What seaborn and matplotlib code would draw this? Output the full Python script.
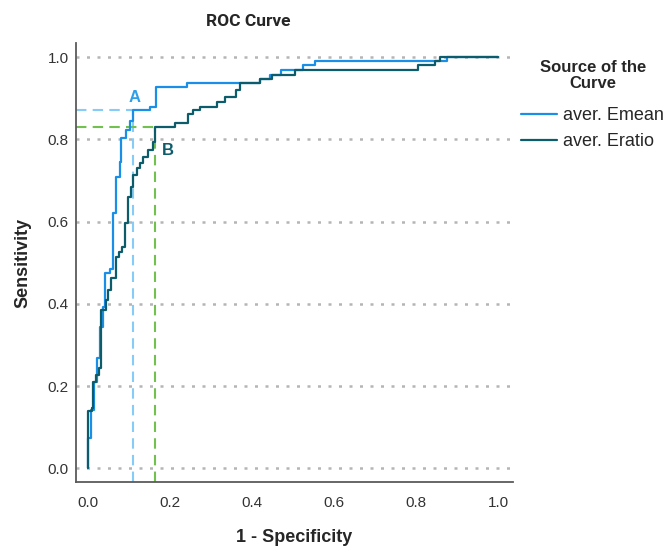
import numpy as np
import pandas as pd
import seaborn as sns
from matplotlib import pyplot as plt
from matplotlib.lines import Line2D

# ROC corner points (vertical step first, then horizontal)
emean_fpr = [0.0, 0.006, 0.013, 0.021, 0.028, 0.035, 0.042, 0.054, 0.060, 0.067,
             0.077, 0.081, 0.091, 0.101, 0.109, 0.150, 0.165, 0.240, 0.418, 0.443,
             0.471, 0.523, 0.553, 0.874, 1.0]
emean_tpr = [0.0, 0.074, 0.142, 0.210, 0.268, 0.343, 0.392, 0.475, 0.485, 0.621,
             0.708, 0.744, 0.803, 0.822, 0.846, 0.872, 0.879, 0.927, 0.937, 0.948,
             0.956, 0.968, 0.980, 0.990, 1.0]

eratio_fpr = [0.0, 0.008, 0.012, 0.018, 0.026, 0.032, 0.043, 0.048, 0.055, 0.067,
              0.075, 0.083, 0.089, 0.097, 0.105, 0.109, 0.118, 0.126, 0.134, 0.146,
              0.158, 0.163, 0.211, 0.243, 0.256, 0.272, 0.313, 0.333, 0.360, 0.370,
              0.418, 0.447, 0.504, 0.804, 0.845, 0.857, 1.0]
eratio_tpr = [0.0, 0.139, 0.147, 0.210, 0.227, 0.244, 0.385, 0.410, 0.434, 0.463,
              0.514, 0.526, 0.538, 0.596, 0.659, 0.684, 0.713, 0.730, 0.742, 0.757,
              0.774, 0.793, 0.829, 0.840, 0.863, 0.871, 0.879, 0.891, 0.903, 0.921,
              0.937, 0.948, 0.956, 0.968, 0.980, 0.991, 1.0]

series_names = ["aver. Emean", "aver. Eratio"]
series_colors = ["#1a8fe8", "#0d5c6c"]

# Cut-off points A and B
cut_labels = ["A", "B"]
cut_fpr = [0.109, 0.163]
cut_tpr = [0.872, 0.829]
cut_line_colors = ["#86ccf6", "#72c04e"]
cut_text_colors = ["#2f9fe8", "#0d5c6c"]

ticks = [0.0, 0.2, 0.4, 0.6, 0.8, 1.0]
tick_labels = ["0.0", "0.2", "0.4", "0.6", "0.8", "1.0"]

sns.set_style("white")
plt.rcParams["font.family"] = ["Liberation Sans", "DejaVu Sans"]

df = pd.concat([
    pd.DataFrame({"fpr": emean_fpr, "tpr": emean_tpr, "source": series_names[0]}),
    pd.DataFrame({"fpr": eratio_fpr, "tpr": eratio_tpr, "source": series_names[1]}),
])

fig = plt.figure(figsize=(6.66, 5.47), dpi=100)
ax = fig.add_axes([0.114, 0.119, 0.656, 0.802])

xmin, xmax = -0.030, 1.035
ymin, ymax = -0.033, 1.034

# Horizontal dotted grid
ax.set_axisbelow(True)
ax.yaxis.grid(True, linestyle=(0, (1.2, 3)), color="#b5b5b5", linewidth=1.8)
ax.xaxis.grid(False)

# Dashed cut-off guides
for fx, ty, col in zip(cut_fpr, cut_tpr, cut_line_colors):
    ax.plot([xmin, fx], [ty, ty], color=col, lw=1.5, ls=(0, (5, 3)), zorder=2)
    ax.plot([fx, fx], [ymin, ty], color=col, lw=1.5, ls=(0, (5, 3)), zorder=2)

sns.lineplot(data=df, x="fpr", y="tpr", hue="source", palette=series_colors,
             hue_order=series_names, drawstyle="steps-pre", estimator=None,
             sort=False, lw=1.6, legend=False, ax=ax, zorder=3)

ax.text(0.114, 0.902, cut_labels[0], color=cut_text_colors[0], fontsize=12,
        fontweight="bold", ha="center", va="center")
ax.text(0.194, 0.773, cut_labels[1], color=cut_text_colors[1], fontsize=12,
        fontweight="bold", ha="center", va="center")

ax.set_xlim(xmin, xmax)
ax.set_ylim(ymin, ymax)
ax.set_xticks(ticks)
ax.set_xticklabels(tick_labels)
ax.set_yticks(ticks)
ax.set_yticklabels(tick_labels)
ax.tick_params(length=0, labelsize=11, colors="#333333")
ax.tick_params(axis="x", pad=10)
ax.tick_params(axis="y", pad=5)

sns.despine(ax=ax)
for side in ["left", "bottom"]:
    ax.spines[side].set_color("#5a5a5a")
    ax.spines[side].set_linewidth(1.3)

ax.set_xlabel("1 - Specificity", fontsize=13, fontweight="bold", labelpad=14)
ax.set_ylabel("Sensitivity", fontsize=13, fontweight="bold", labelpad=12)

fig.text(0.372, 0.96, "ROC Curve", fontsize=12.5, fontweight="bold",
         family=["Roboto", "Liberation Sans"], ha="center", va="center")

# Legend title drawn separately so it can sit centred above the entries
fig.text(0.890, 0.862, "Source of the\nCurve", fontsize=12, fontweight="bold",
         ha="center", va="center", multialignment="center", linespacing=1.1)

handles = [Line2D([], [], color=c, lw=1.6) for c in series_colors]
ax.legend(handles, series_names, loc="upper left", bbox_to_anchor=(0.783, 0.804),
          bbox_transform=fig.transFigure, frameon=False, fontsize=13,
          handlelength=1.95, handletextpad=0.33, labelspacing=0.5,
          borderpad=0, borderaxespad=0)

fig.savefig("out.png", dpi=100)
